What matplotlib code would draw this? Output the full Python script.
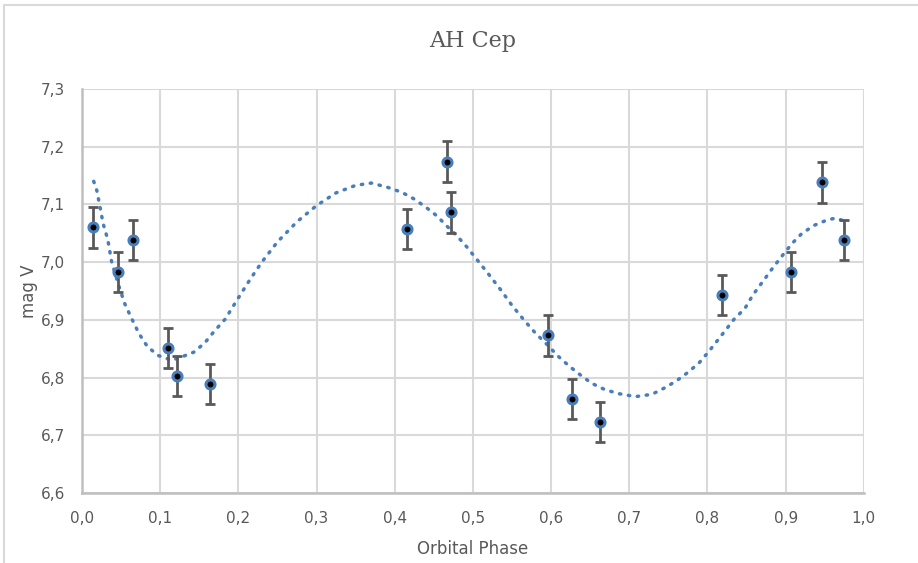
import matplotlib.pyplot as plt
from matplotlib.ticker import MultipleLocator, FuncFormatter
from matplotlib.patches import Rectangle

# === Data ===
phase = [0.014, 0.046, 0.065, 0.110, 0.121, 0.164, 0.416, 0.467, 0.472,
         0.596, 0.627, 0.662, 0.818, 0.907, 0.947, 0.974]
mag_v = [7.060, 6.983, 7.038, 6.851, 6.803, 6.789, 7.057, 7.174, 7.086,
         6.873, 6.763, 6.723, 6.943, 6.983, 7.138, 7.038]
mag_err = [0.035] * len(phase)

# dotted trendline
trend_x = [0.015, 0.019, 0.023, 0.027, 0.033, 0.038, 0.048, 0.055, 0.064,
           0.073, 0.084, 0.098, 0.115, 0.126, 0.143, 0.157, 0.169, 0.183,
           0.200, 0.215, 0.230, 0.250, 0.275, 0.300, 0.325, 0.350, 0.370,
           0.390, 0.409, 0.424, 0.439, 0.454, 0.467, 0.480, 0.493, 0.506,
           0.519, 0.535, 0.550, 0.567, 0.580, 0.595, 0.609, 0.623, 0.637,
           0.652, 0.669, 0.687, 0.708, 0.729, 0.745, 0.760, 0.774, 0.789,
           0.801, 0.815, 0.834, 0.848, 0.858, 0.870, 0.883, 0.895, 0.908,
           0.921, 0.937, 0.953, 0.963, 0.974]
trend_y = [7.140, 7.124, 7.096, 7.067, 7.039, 7.000, 6.955, 6.927, 6.901,
           6.876, 6.853, 6.838, 6.830, 6.835, 6.844, 6.860, 6.880, 6.901,
           6.938, 6.970, 7.000, 7.035, 7.070, 7.098, 7.120, 7.133, 7.137,
           7.130, 7.121, 7.110, 7.096, 7.080, 7.062, 7.045, 7.025, 7.003,
           6.981, 6.953, 6.925, 6.897, 6.877, 6.857, 6.837, 6.820, 6.805,
           6.790, 6.779, 6.772, 6.767, 6.771, 6.782, 6.794, 6.808, 6.825,
           6.844, 6.868, 6.901, 6.920, 6.943, 6.965, 6.989, 7.010, 7.032,
           7.050, 7.064, 7.073, 7.076, 7.072]

TITLE = "AH Cep"
X_LABEL = "Orbital Phase"
Y_LABEL = "mag V"

TEXT_GREY = "#595959"
GRID_GREY = "#d9d9d9"
BLUE = "#4a7ebb"

# === Figure ===
fig = plt.figure(figsize=(9.18, 5.63), dpi=100)
ax = fig.add_axes([0.0893, 0.1243, 0.8517, 0.7177])

# chart frame (Excel chart-area border, only top/left visible)
fig.patches.append(Rectangle((4 / 918, -0.1), 1.2, 1 - 5 / 563 + 0.1,
                             transform=fig.transFigure, fill=False,
                             edgecolor=GRID_GREY, linewidth=1.5))

ax.plot(trend_x, trend_y, color=BLUE, linewidth=2.5,
        linestyle=(0, (0.4, 2.2)), dash_capstyle="round",
        solid_joinstyle="round", zorder=3)

ax.errorbar(phase, mag_v, yerr=mag_err, fmt="none", ecolor=TEXT_GREY,
            elinewidth=2.0, capsize=3.8, capthick=2.0, zorder=4)
ax.plot(phase, mag_v, "o", markersize=6.5, markerfacecolor="black",
        markeredgecolor=BLUE, markeredgewidth=2.2, linestyle="none", zorder=5)

ax.set_xlim(0, 1)
ax.set_ylim(6.6, 7.3)
ax.xaxis.set_major_locator(MultipleLocator(0.1))
ax.yaxis.set_major_locator(MultipleLocator(0.1))
comma = FuncFormatter(lambda v, p: f"{v:.1f}".replace(".", ","))
ax.xaxis.set_major_formatter(comma)
ax.yaxis.set_major_formatter(comma)

ax.grid(True, color=GRID_GREY, linewidth=1.5, zorder=0)
ax.set_axisbelow(True)
for side in ["top", "right"]:
    ax.spines[side].set_visible(False)
for side in ["left", "bottom"]:
    ax.spines[side].set_color("#bfbfbf")
    ax.spines[side].set_linewidth(1.8)

ax.tick_params(length=0, labelsize=11, labelcolor=TEXT_GREY)
ax.tick_params(axis="x", pad=13)
ax.tick_params(axis="y", pad=12)

ax.set_title(TITLE, fontsize=16, color=TEXT_GREY, family="DejaVu Serif", pad=30)
ax.set_xlabel(X_LABEL, fontsize=12, color=TEXT_GREY, labelpad=10)
ax.set_ylabel(Y_LABEL, fontsize=12, color=TEXT_GREY, labelpad=2)

fig.savefig("out.png", dpi=100)
